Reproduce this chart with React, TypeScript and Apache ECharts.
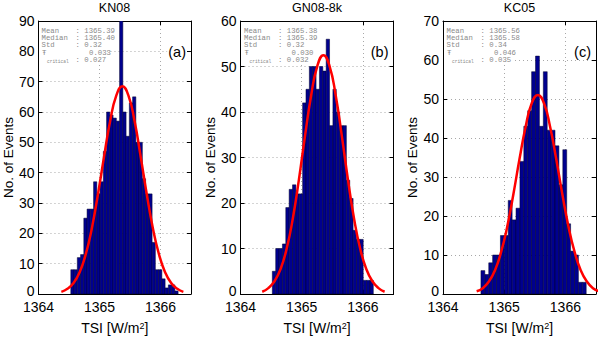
import React, { useEffect, useRef } from "react";
import * as echarts from "echarts";

// ---------- data ----------
const panelTitles = ["KN08", "GN08-8k", "KC05"];
const panelTags = ["(a)", "(b)", "(c)"];
const yMaxes = [90, 60, 70];
const xMin = 1364;
const xMax = 1366.5;

// histogram bins (start, width) and counts
const kn08BinStart = 1364.53;
const kn08BinWidth = 0.0533;
const kn08Counts = [8, 8, 12, 13, 25, 28, 28, 37, 33, 37, 47, 60, 59, 58, 57, 90, 60, 52, 63, 65, 50, 50, 38, 33, 33, 17, 8, 8, 5, 2, 3, 3, 1];

const gn08BinStart = 1364.52;
const gn08BinWidth = 0.055;
const gn08Counts = [5, 10, 10, 11, 19, 23, 24, 22, 22, 42, 45, 50, 50, 45, 50, 49, 56, 37, 45, 40, 37, 37, 25, 21, 14, 12, 12, 3, 3, 3];

const kc05BinStart = 1364.62;
const kc05BinWidth = 0.0637;
const kc05Counts = [6, 5, 8, 10, 10, 15, 15, 24, 19, 22, 34, 43, 47, 57, 61, 43, 57, 42, 42, 38, 28, 37, 18, 11, 10, 3, 3];

// fitted curves
const kn08CurveX = [1364.375, 1364.475, 1364.575, 1364.675, 1364.775, 1364.875, 1364.975, 1365.075, 1365.175, 1365.275, 1365.375, 1365.475, 1365.575, 1365.675, 1365.775, 1365.875, 1365.975, 1366.075, 1366.175, 1366.275, 1366.375];
const kn08CurveY = [0.7, 1.7, 3.6, 7.2, 13.1, 21.7, 32.9, 45.3, 57.0, 65.4, 68.5, 65.4, 57.0, 45.3, 32.9, 21.7, 13.1, 7.2, 3.6, 1.7, 0.7];

const gn08CurveX = [1364.355, 1364.455, 1364.555, 1364.655, 1364.755, 1364.855, 1364.955, 1365.055, 1365.155, 1365.255, 1365.355, 1365.455, 1365.555, 1365.655, 1365.755, 1365.855, 1365.955, 1366.055, 1366.155, 1366.255, 1366.355];
const gn08CurveY = [0.5, 1.3, 2.8, 5.5, 10.0, 16.6, 25.2, 34.8, 43.7, 50.1, 52.5, 50.1, 43.7, 34.8, 25.2, 16.6, 10.0, 5.5, 2.8, 1.3, 0.5];

const kc05CurveX = [1364.55, 1364.65, 1364.75, 1364.85, 1364.95, 1365.05, 1365.15, 1365.25, 1365.35, 1365.45, 1365.55, 1365.65, 1365.75, 1365.85, 1365.95, 1366.05, 1366.15, 1366.25, 1366.35, 1366.45, 1366.55];
const kc05CurveY = [0.7, 1.5, 3.2, 6.1, 10.8, 17.3, 25.6, 34.6, 42.9, 48.9, 51.0, 48.9, 42.9, 34.6, 25.6, 17.3, 10.8, 6.1, 3.2, 1.5, 0.7];

// statistics text
const statMean = ["1365.39", "1365.38", "1365.56"];
const statMedian = ["1365.40", "1365.39", "1365.58"];
const statStd = ["0.32", "0.32", "0.34"];
const statT = ["0.033", "0.030", "0.046"];
const statTCrit = ["0.027", "0.032", "0.035"];

// ---------- layout ----------
const LEFTS = [38, 240.5, 443];
const W = 153;
const TOP = 21;
const H = 278;
const FONT = "'Liberation Sans', Arial, Helvetica, sans-serif";
const MONO = "'Liberation Mono', 'DejaVu Sans Mono', monospace";
const STAT_COLOR = "#8a8a8a";
const STAT_FS = 7.3;

const binsList = [
  { start: kn08BinStart, width: kn08BinWidth, counts: kn08Counts },
  { start: gn08BinStart, width: gn08BinWidth, counts: gn08Counts },
  { start: kc05BinStart, width: kc05BinWidth, counts: kc05Counts },
];
const curves = [
  { x: kn08CurveX, y: kn08CurveY },
  { x: gn08CurveX, y: gn08CurveY },
  { x: kc05CurveX, y: kc05CurveY },
];

function buildOption(): any {
  const grid: any[] = [];
  const xAxis: any[] = [];
  const yAxis: any[] = [];
  const series: any[] = [];
  const graphic: any[] = [];

  const splitStyle = { color: "#a8a8a8", width: 1, type: [1, 3] };

  const statText = (x: number, y: number, text: string, fs: number) => ({
    type: "text",
    x,
    y,
    z: 1,
    style: {
      text,
      fill: STAT_COLOR,
      fontSize: fs,
      lineHeight: fs,
      fontFamily: MONO,
      textAlign: "left",
      textVerticalAlign: "middle",
    },
  });

  for (let i = 0; i < 3; i++) {
    const l = LEFTS[i];
    grid.push({ left: l, top: TOP, width: W, height: H, containLabel: false });

    xAxis.push({
      gridIndex: i,
      type: "value",
      position: "bottom",
      min: xMin,
      max: xMax,
      interval: 1,
      axisLine: { show: true, onZero: false, lineStyle: { color: "#000", width: 1 } },
      axisTick: { show: true, inside: true, length: 4, lineStyle: { color: "#000" } },
      axisLabel: {
        color: "#000",
        fontSize: 14,
        lineHeight: 14,
        fontFamily: FONT,
        margin: 6,
        showMaxLabel: false,
        formatter: (v: number) => String(v),
      },
      splitLine: { show: true, showMinLine: false, showMaxLine: false, lineStyle: splitStyle },
      name: "TSI [W/m{sup|2}]",
      nameLocation: "middle",
      nameGap: 27,
      nameTextStyle: {
        color: "#000",
        fontSize: 14,
        fontFamily: FONT,
        rich: {
          sup: { fontSize: 9, fontFamily: FONT, color: "#000", verticalAlign: "top" },
        },
      },
    });
    xAxis.push({
      gridIndex: i,
      type: "value",
      position: "top",
      min: xMin,
      max: xMax,
      interval: 1,
      axisLine: { show: true, onZero: false, lineStyle: { color: "#000", width: 1 } },
      axisTick: { show: true, inside: true, length: 4, lineStyle: { color: "#000" } },
      axisLabel: { show: false },
      splitLine: { show: false },
    });

    yAxis.push({
      gridIndex: i,
      type: "value",
      position: "left",
      min: 0,
      max: yMaxes[i],
      interval: 10,
      axisLine: { show: true, onZero: false, lineStyle: { color: "#000", width: 1 } },
      axisTick: { show: true, inside: true, length: 4, lineStyle: { color: "#000" } },
      axisLabel: {
        color: "#000",
        fontSize: 14,
        lineHeight: 14,
        fontFamily: FONT,
        margin: 4,
        formatter: (v: number) => (v === 0 ? "{zero|0}" : String(v)),
        rich: {
          zero: { fontSize: 14, lineHeight: 14, fontFamily: FONT, color: "#000", padding: [0, 0, 7, 0] },
        },
      },
      splitLine: { show: true, showMinLine: false, showMaxLine: false, lineStyle: splitStyle },
      name: "No. of Events",
      nameLocation: "middle",
      nameGap: 22,
      nameTextStyle: { color: "#000", fontSize: 13.5, fontFamily: FONT },
    });
    yAxis.push({
      gridIndex: i,
      type: "value",
      position: "right",
      min: 0,
      max: yMaxes[i],
      interval: 10,
      axisLine: { show: true, onZero: false, lineStyle: { color: "#000", width: 1 } },
      axisTick: { show: true, inside: true, length: 4, lineStyle: { color: "#000" } },
      axisLabel: { show: false },
      splitLine: { show: false },
    });

    const b = binsList[i];
    series.push({
      type: "custom",
      xAxisIndex: 2 * i,
      yAxisIndex: 2 * i,
      clip: true,
      encode: { x: [0, 1], y: 2 },
      data: b.counts.map((c, k) => [b.start + k * b.width, b.start + (k + 1) * b.width, c]),
      renderItem: (params: any, api: any) => {
        const p0 = api.coord([api.value(0), api.value(2)]);
        const p1 = api.coord([api.value(1), 0]);
        return {
          type: "rect",
          shape: { x: p0[0], y: p0[1], width: p1[0] - p0[0], height: p1[1] - p0[1] },
          style: { fill: "#00008f", stroke: "#00002a", lineWidth: 0.5 },
        };
      },
      z: 2,
    });

    const c = curves[i];
    series.push({
      type: "line",
      xAxisIndex: 2 * i,
      yAxisIndex: 2 * i,
      data: c.x.map((x, k) => [x, c.y[k]]),
      showSymbol: false,
      smooth: true,
      clip: true,
      lineStyle: { color: "#ff0000", width: 2.5 },
      z: 3,
    });

    // title
    graphic.push({
      type: "text",
      x: l + W / 2,
      y: 8,
      z: 5,
      style: {
        text: panelTitles[i],
        fill: "#000",
        fontSize: 12.5,
        fontFamily: FONT,
        textAlign: "center",
        textVerticalAlign: "middle",
      },
    });

    // stats white box
    graphic.push({
      type: "rect",
      z: 1,
      shape: { x: l + 1, y: TOP + 1, width: 68, height: 43 },
      style: { fill: "#fff" },
    });
    const rows = [
      ["Mean", statMean[i]],
      ["Median", statMedian[i]],
      ["Std", statStd[i]],
    ];
    rows.forEach((r, k) => {
      const yy = TOP + 10 + k * 7;
      graphic.push(statText(l + 3.5, yy, r[0], STAT_FS));
      graphic.push(statText(l + 37.5, yy, ": " + r[1], STAT_FS));
    });
    graphic.push(statText(l + 4, TOP + 31.5, "Ŧ", STAT_FS));
    graphic.push(statText(l + 9, TOP + 40, "critical", 4.5));
    graphic.push(statText(l + 51, TOP + 31.6, statT[i], STAT_FS));
    graphic.push(statText(l + 37.5, TOP + 39, ": " + statTCrit[i], STAT_FS));

    // panel tag
    graphic.push({
      type: "text",
      x: l + W - 4,
      y: 52,
      z: 1,
      style: {
        text: panelTags[i],
        fill: "#000",
        fontSize: 14.5,
        fontFamily: FONT,
        textAlign: "right",
        textVerticalAlign: "middle",
        backgroundColor: "#fff",
        padding: [0, 1],
      },
    });
  }

  return {
    animation: false,
    backgroundColor: "#fff",
    grid,
    xAxis,
    yAxis,
    series,
    graphic,
  };
}

export default function App() {
  const ref = useRef<HTMLDivElement>(null);
  useEffect(() => {
    if (!ref.current) return;
    const chart = echarts.init(ref.current, undefined, { renderer: "svg" });
    chart.setOption(buildOption());
    return () => chart.dispose();
  }, []);
  return (
    <div
      ref={ref}
      style={{ position: "absolute", left: 0, top: 0, width: 600, height: 340, background: "#fff" }}
    />
  );
}
